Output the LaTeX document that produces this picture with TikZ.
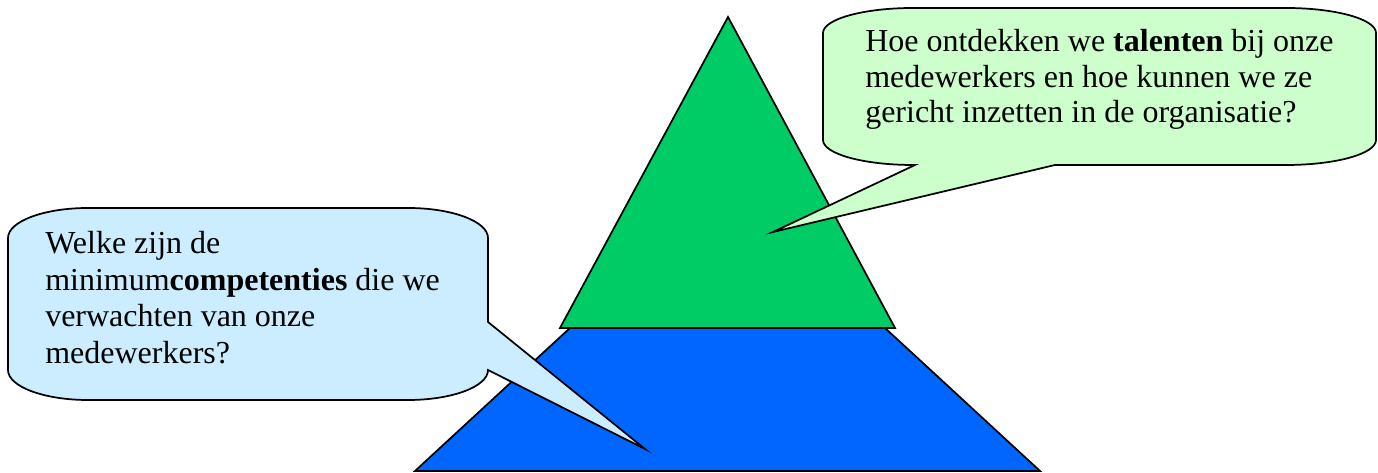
\documentclass[tikz,border=0pt]{standalone}
\usepackage{fontspec}
\setmainfont{Liberation Serif}
\definecolor{topgreen}{HTML}{00CC66}
\definecolor{basblue}{HTML}{0066FF}
\definecolor{calgreen}{HTML}{CCFFCC}
\definecolor{calblue}{HTML}{CCECFF}
\tikzset{
  layer/.style={draw=black,line width=1.3pt,line join=miter},
  callout/.style={draw=black,line width=1.3pt,line join=miter},
  calltext/.style={anchor=base west,inner sep=0pt,font=\fontsize{24}{29}\selectfont}
}
\begin{document}
\begin{tikzpicture}[x=0.75pt,y=0.75pt]
  \useasboundingbox (0,0) rectangle (1378,473);
  % pyramid
  \fill[basblue,layer] (415,2) -- (1040,2) -- (885,145) -- (570,145) -- cycle;
  \fill[topgreen,layer] (560,145) -- (895,145) -- (728,456) -- cycle;
  \coordinate (gtip) at (773,241);
  \coordinate (btip) at (645,24);
  % callout top right
  \filldraw[fill=calgreen,callout] (913,465) -- (1286,465)
    arc[start angle=90,end angle=0,x radius=90,y radius=25] -- (1376,333)
    arc[start angle=0,end angle=-90,x radius=90,y radius=25] -- (1055,308)
    -- (gtip) -- (915,308) -- (913,308)
    arc[start angle=-90,end angle=-180,x radius=90,y radius=25] -- (823,440)
    arc[start angle=180,end angle=90,x radius=90,y radius=25] -- cycle;
  % callout left
  \filldraw[fill=calblue,callout] (88,265) -- (408,265)
    arc[start angle=90,end angle=0,x radius=80,y radius=30] -- (488,151)
    -- (btip) -- (488,103)
    arc[start angle=0,end angle=-90,x radius=80,y radius=30] -- (88,73)
    arc[start angle=-90,end angle=-180,x radius=80,y radius=30] -- (8,235)
    arc[start angle=180,end angle=90,x radius=80,y radius=30] -- cycle;
  \foreach \i/\txt in {0/Hoe ontdekken we \textbf{talenten} bij onze,
                       1/medewerkers en hoe kunnen we ze,
                       2/gericht inzetten in de organisatie?} {
    \node[calltext] (tal\i) at (865,421-35.5*\i) {\txt};
  }
  \foreach \i/\txt in {0/Welke zijn de,
                       1/minimum\textbf{competenties} die we,
                       2/verwachten van onze,
                       3/medewerkers?} {
    \node[calltext] (comp\i) at (45,219-36.5*\i) {\txt};
  }
\end{tikzpicture}
\end{document}
